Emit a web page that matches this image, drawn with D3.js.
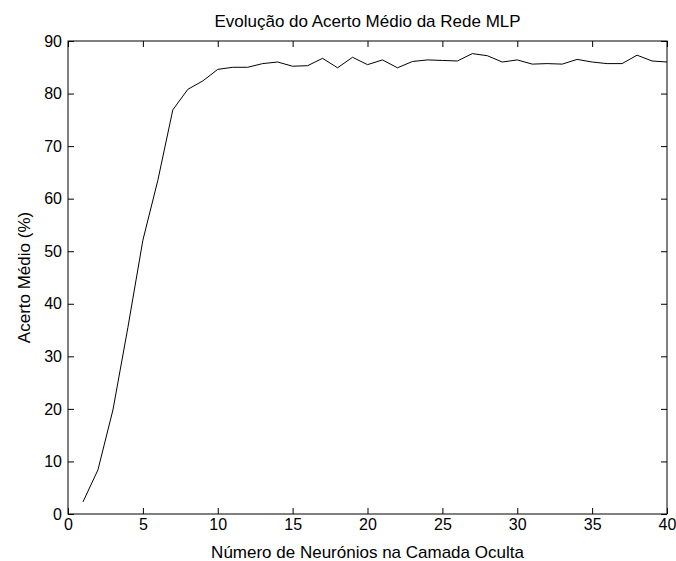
<!DOCTYPE html>
<html>
<head>
<meta charset="UTF-8">
<title>Evolução do Acerto Médio</title>
<style>
  body { margin: 0; background: #fff; }
  svg { display: block; font-family: "Liberation Sans", Arial, sans-serif; }
  .tick text { font-size: 16px; fill: #000; }
</style>
</head>
<body>
<div id="chart"></div>
<script src="https://d3js.org/d3.v7.min.js"></script>
<script>
const neurons = d3.range(1, 41);
const accuracy = [
  2.3, 8.4, 19.8, 35.5, 52.1, 63.5, 76.9, 80.8, 82.4, 84.6,
  85.0, 85.0, 85.7, 86.0, 85.2, 85.3, 86.7, 84.9, 86.9, 85.5,
  86.4, 84.9, 86.1, 86.4, 86.3, 86.2, 87.6, 87.2, 86.0, 86.4,
  85.6, 85.7, 85.6, 86.5, 86.0, 85.7, 85.7, 87.3, 86.2, 86.0
];
const xTicks = [0, 5, 10, 15, 20, 25, 30, 35, 40];
const yTicks = [0, 10, 20, 30, 40, 50, 60, 70, 80, 90];

const width = 676, height = 561;
const margin = {top: 41, right: 9, bottom: 47, left: 68};

const svg = d3.select("#chart").append("svg")
  .attr("width", width).attr("height", height);

const x = d3.scaleLinear().domain([0, 40]).range([margin.left, width - margin.right]);
const y = d3.scaleLinear().domain([0, 90]).range([height - margin.bottom, margin.top]);

// box
svg.append("rect")
  .attr("x", x(0)).attr("y", y(90))
  .attr("width", x(40) - x(0)).attr("height", y(0) - y(90))
  .attr("fill", "none").attr("stroke", "#000").attr("stroke-width", 1);

// axes, ticks pointing inward like matlab
svg.append("g")
  .attr("transform", `translate(0,${y(0)})`)
  .call(d3.axisBottom(x).tickValues(xTicks).tickSizeInner(-6).tickSizeOuter(0).tickPadding(5))
  .call(g => g.select(".domain").remove());
svg.append("g")
  .attr("transform", `translate(0,${y(90)})`)
  .call(d3.axisTop(x).tickValues(xTicks).tickSizeInner(-6).tickSizeOuter(0).tickFormat(""))
  .call(g => g.select(".domain").remove());
svg.append("g")
  .attr("transform", `translate(${x(0)},0)`)
  .call(d3.axisLeft(y).tickValues(yTicks).tickSizeInner(-6).tickSizeOuter(0).tickPadding(6))
  .call(g => g.select(".domain").remove());
svg.append("g")
  .attr("transform", `translate(${x(40)},0)`)
  .call(d3.axisRight(y).tickValues(yTicks).tickSizeInner(-6).tickSizeOuter(0).tickFormat(""))
  .call(g => g.select(".domain").remove());

const line = d3.line().x((d, i) => x(neurons[i])).y(d => y(d));
svg.append("path")
  .datum(accuracy)
  .attr("d", line)
  .attr("fill", "none")
  .attr("stroke", "#000")
  .attr("stroke-width", 1);

svg.append("text")
  .attr("x", (x(0) + x(40)) / 2).attr("y", 27)
  .attr("text-anchor", "middle").attr("font-size", 17)
  .text("Evolução do Acerto Médio da Rede MLP");

svg.append("text")
  .attr("x", (x(0) + x(40)) / 2).attr("y", 558)
  .attr("text-anchor", "middle").attr("font-size", 17)
  .text("Número de Neurónios na Camada Oculta");

svg.append("text")
  .attr("transform", `translate(30,${(y(0) + y(90)) / 2}) rotate(-90)`)
  .attr("text-anchor", "middle").attr("font-size", 17)
  .text("Acerto Médio (%)");
</script>
</body>
</html>
